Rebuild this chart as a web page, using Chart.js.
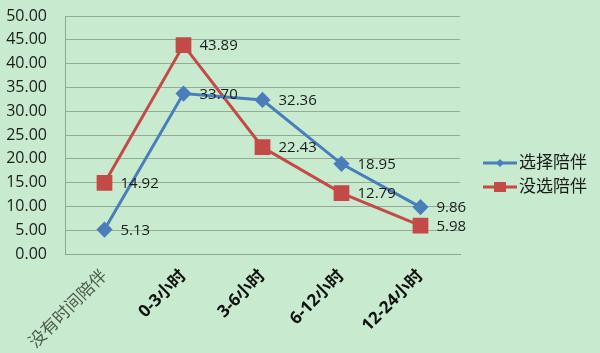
<!DOCTYPE html>
<html><head><meta charset="utf-8">
<script src="https://cdn.jsdelivr.net/npm/chart.js@4/dist/chart.umd.min.js"></script>
<style>html,body{margin:0;padding:0;background:#c8ebcf;}#w{width:600px;height:353px;}</style>
</head><body><div id="w"><canvas id="c" width="600" height="353"></canvas></div>
<script>
const categories = ['没有时间陪伴','0-3小时','3-6小时','6-12小时','12-24小时'];
const seriesNames = ['选择陪伴','没选陪伴'];
const chosen = [5.13, 33.70, 32.36, 18.95, 9.86];
const notChosen = [14.92, 43.89, 22.43, 12.79, 5.98];
const yTicks = [0,5,10,15,20,25,30,35,40,45,50];

const FONT = "'Open Sans','Noto Sans CJK SC',sans-serif";
const blue = '#4a7ebb', red = '#c44a48';

const labelPlugin = {
  id: 'vals',
  afterDatasetsDraw(chart) {
    const ctx = chart.ctx;
    ctx.save();
    ctx.font = "15px " + FONT;
    ctx.fillStyle = '#1c1c1c';
    ctx.textBaseline = 'middle';
    ctx.textAlign = 'left';
    chart.data.datasets.forEach((ds, i) => {
      chart.getDatasetMeta(i).data.forEach((pt, j) => {
        ctx.fillText(ds.data[j].toFixed(2), pt.x + 16, pt.y + 1);
      });
    });
    ctx.restore();
  }
};
const legendPlugin = {
  id: 'leg',
  afterDraw(chart) {
    const ctx = chart.ctx;
    const a = chart.chartArea;
    const x0 = a.right + 23;
    const ys = [163, 187];
    chart.data.datasets.forEach((ds, i) => {
      const y = ys[i];
      ctx.save();
      ctx.strokeStyle = ds.borderColor; ctx.lineWidth = 3;
      ctx.beginPath(); ctx.moveTo(x0, y); ctx.lineTo(x0 + 34, y); ctx.stroke();
      ctx.fillStyle = ds.borderColor;
      const cx = x0 + 17;
      if (ds.pointStyle === 'rectRot') {
        ctx.beginPath(); ctx.moveTo(cx, y-4); ctx.lineTo(cx+4, y); ctx.lineTo(cx, y+4); ctx.lineTo(cx-4, y); ctx.closePath(); ctx.fill();
      } else {
        ctx.fillRect(cx-6, y-5, 12, 10);
      }
      ctx.font = "17px " + FONT;
      ctx.fillStyle = '#1c1c1c';
      ctx.textBaseline = 'middle';
      ctx.fillText(ds.label, x0 + 36, y);
      ctx.restore();
    });
  }
};

new Chart(document.getElementById('c'), {
  type: 'line',
  data: {
    labels: categories,
    datasets: [
      { label: seriesNames[0], data: chosen, borderColor: blue, backgroundColor: blue, borderWidth: 3,
        pointStyle: 'rectRot', pointRadius: 6, pointHoverRadius: 6, tension: 0 },
      { label: seriesNames[1], data: notChosen, borderColor: red, backgroundColor: red, borderWidth: 3,
        pointStyle: 'rect', pointRadius: 9, pointHoverRadius: 9, tension: 0 }
    ]
  },
  options: {
    responsive: false,
    animation: false,
    layout: { padding: { left: 0, right: 140, top: 16, bottom: 0 } },
    plugins: { legend: { display: false }, tooltip: { enabled: false } },
    scales: {
      x: {
        offset: true,
        grid: { display: false, drawTicks: false },
        border: { display: true, color: '#8fa68f', width: 1 },
        afterFit(s) { s.height = 99; s.paddingLeft = 0; s.paddingRight = 0; },
        ticks: {
          maxRotation: 45, minRotation: 45, padding: 12,
          font: (c) => ({ family: FONT, size: 17, weight: c.index === 0 ? 'normal' : 'bold' }),
          color: (c) => c.index === 0 ? '#4d5a4d' : '#111'
        }
      },
      y: {
        min: 0, max: 50,
        afterFit(s) { s.width = 65; s.paddingTop = 0; s.paddingBottom = 0; },
        afterBuildTicks(s) { s.ticks = yTicks.map(v => ({ value: v })); },
        grid: { color: '#93ab93', lineWidth: 1, drawTicks: false },
        border: { display: true, color: '#8fa68f', width: 1 },
        ticks: {
          padding: 18,
          font: { family: FONT, size: 16 },
          color: '#1c1c1c',
          callback: (v) => Number(v).toFixed(2)
        }
      }
    }
  },
  plugins: [labelPlugin, legendPlugin]
});
</script>
</body></html>
